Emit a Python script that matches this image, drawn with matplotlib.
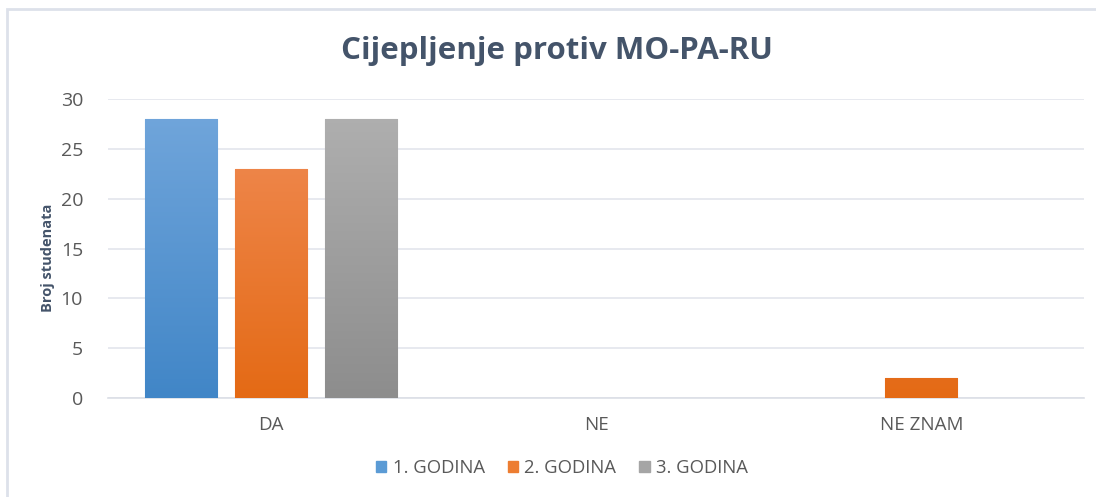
import matplotlib
matplotlib.use("Agg")
import matplotlib.pyplot as plt
import numpy as np
from matplotlib.colors import LinearSegmentedColormap
from matplotlib.patches import Rectangle

categories = ["DA", "NE", "NE ZNAM"]
series_names = ["1. GODINA", "2. GODINA", "3. GODINA"]
godina1 = [28, 0, 0]
godina2 = [23, 0, 2]
godina3 = [28, 0, 0]
series_values = [godina1, godina2, godina3]
yticks = [0, 5, 10, 15, 20, 25, 30]

top_colors = ["#73a7dc", "#f18d58", "#b1b1b1"]
bot_colors = ["#4186c7", "#e46a15", "#8d8d8d"]
mid_colors = ["#5b9bd5", "#ed7d31", "#a5a5a5"]

plt.rcParams['font.family'] = ['Open Sans', 'DejaVu Sans']

W, H = 1096, 497
fig = plt.figure(figsize=(W / 100, H / 100), dpi=100)
fig.patch.set_facecolor("white")

# outer frame
fig.add_artist(Rectangle((7 / W, -0.1), 1.2, (H - 9) / H + 0.1,
                         transform=fig.transFigure, fill=False,
                         edgecolor="#dde1ea", lw=2, zorder=0))

ax = fig.add_axes([108 / W, 99 / H, 976 / W, 299 / H])

x = np.arange(len(categories))
step = 90 / 325.3
width = 72 / 325.3
grad = np.linspace(1, 0, 256).reshape(-1, 1)
for i, vals in enumerate(series_values):
    pos = x + (i - 1) * step
    bars = ax.bar(pos, vals, width=width, color=mid_colors[i],
                  edgecolor=top_colors[i], linewidth=0.8, zorder=3,
                  label=series_names[i])
    cmap = LinearSegmentedColormap.from_list("g%d" % i, [bot_colors[i], top_colors[i]])
    for b, v in zip(bars, vals):
        if v <= 0:
            b.set_linewidth(0)
            continue
        im = ax.imshow(grad, cmap=cmap, aspect="auto", vmin=0, vmax=1,
                       extent=(b.get_x(), b.get_x() + b.get_width(), 0, 30),
                       zorder=3.5, interpolation="bilinear")
        im.set_clip_path(b)
ax.set_xlim(-0.5, 2.5)
ax.set_ylim(0, 30)

ax.set_yticks(yticks)
ax.set_yticklabels([str(t) for t in yticks])
ax.set_xticks(x)
ax.set_xticklabels(categories)
ax.yaxis.grid(True, color="#e3e5ec", lw=1.2, zorder=0)
ax.set_axisbelow(True)
for s in ["top", "right", "left"]:
    ax.spines[s].set_visible(False)
ax.spines["bottom"].set_color("#dcdfe6")
ax.spines["bottom"].set_linewidth(1.2)
ax.tick_params(axis="both", length=0, colors="#595959")
ax.tick_params(axis="y", pad=18, labelsize=14)
ax.tick_params(axis="x", pad=13, labelsize=13.5)

ax.set_ylabel("Broj studenata", fontsize=10.5, fontweight="bold",
              color="#44546a")
ax.yaxis.set_label_coords((55 - 108) / 976, (398 - 258) / 299)

fig.text(557 / W, 1 - 51 / H, "Cijepljenje protiv MO-PA-RU", ha="center",
         va="center", fontsize=22.5, fontweight="bold", color="#44546a")

handles = [Rectangle((0, 0), 1, 1, color=c) for c in mid_colors]
leg = fig.legend(handles, series_names, loc="center", ncol=3,
                 bbox_to_anchor=(562 / W, 1 - 468 / H), frameon=False,
                 fontsize=13.3, handlelength=0.55, handleheight=0.55,
                 handletextpad=0.35, columnspacing=1.25)
for t in leg.get_texts():
    t.set_color("#595959")

fig.savefig("out.png", dpi=100)
